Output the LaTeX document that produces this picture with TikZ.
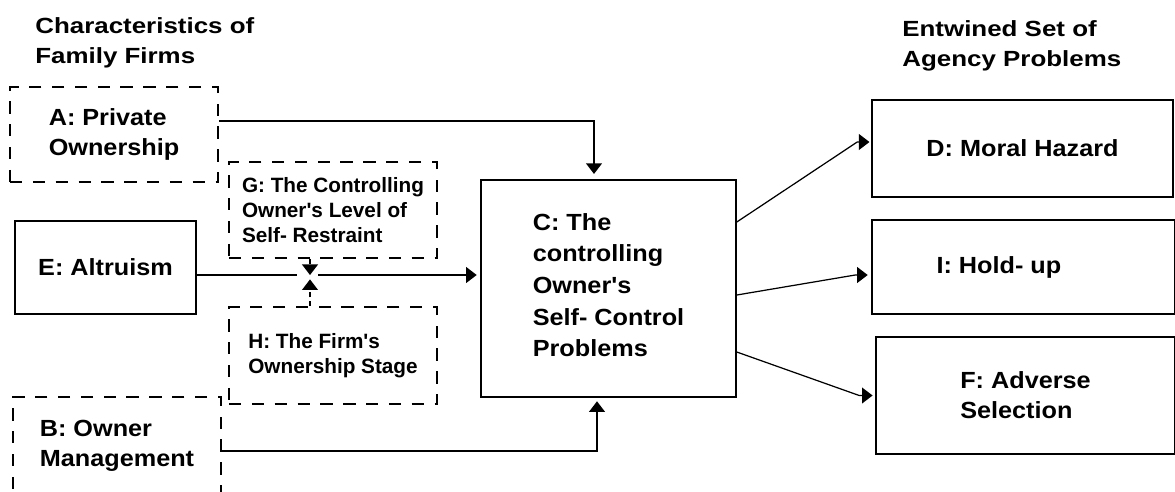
\documentclass[tikz,border=0pt]{standalone}
\usepackage{fontspec}
\setmainfont{Liberation Sans}
\newfontfamily\boxfam{Liberation Sans}[FakeStretch=1.08]
\newfontfamily\headfam{Liberation Sans}[FakeStretch=1.18]
\newfontfamily\smallfam{Liberation Sans}
\usetikzlibrary{arrows.meta,calc}
\newcommand\pxu{0.02cm}
\newcommand\boxfont{\boxfam\fontsize{13.3pt}{17pt}\selectfont\bfseries}
\newcommand\headfont{\headfam\fontsize{12.5pt}{17pt}\selectfont\bfseries}
\newcommand\modfont{\smallfam\fontsize{11.8pt}{14.4pt}\selectfont\bfseries}
\tikzset{
	solidbox/.style={draw,line width=0.9pt,align=left,inner sep=0pt,font=\boxfont},
	dashbox/.style={solidbox,dash pattern=on 7pt off 6pt},
	modbox/.style={dashbox,font=\modfont},
	head/.style={align=left,inner sep=0pt,anchor=north west,font=\headfont},
	arr/.style={-{Triangle[length=6pt,width=9pt]},line width=0.7pt,shorten >=2pt},
	dasharr/.style={arr,dash pattern=on 3pt off 2pt}
}
\begin{document}
\begin{tikzpicture}[x=\pxu,y=-\pxu]
	\useasboundingbox (0,0) rectangle (1175,491);
	% headings
	\node[head](h1)at(35,17){Characteristics of\\Family Firms};
	\node[head](h2)at(902,20){Entwined Set of\\Agency Problems};
	% characteristics
	\node(A)at(114,134.5)[dashbox,minimum width=208*\pxu,minimum height=95*\pxu]{A: Private\\Ownership};
	\node(E)at(105.5,267.5)[solidbox,minimum width=181*\pxu,minimum height=93*\pxu]{E: Altruism};
	\node(B)at(117,446)[dashbox,minimum width=208*\pxu,minimum height=98*\pxu]{B: Owner\\Management};
	% moderators
	\node(G)at(333,210)[modbox,minimum width=208*\pxu,minimum height=96*\pxu]{G: The Controlling\\Owner's Level of\\Self- Restraint};
	\node(H)at(333,355.5)[modbox,minimum width=208*\pxu,minimum height=97*\pxu]{H: The Firm's\\Ownership Stage};
	% centre
	\node(C)at(608.5,288.5)[solidbox,minimum width=255*\pxu,minimum height=217*\pxu,font=\boxfam\fontsize{13.3pt}{18pt}\selectfont\bfseries]{C: The\\controlling\\Owner's\\Self- Control\\Problems\\[-14pt]\mbox{}};
	% agency problems
	\node(D)at(1022.5,148.5)[solidbox,minimum width=301*\pxu,minimum height=97*\pxu]{D: Moral Hazard};
	\node(I)at(1023.5,267)[solidbox,minimum width=303*\pxu,minimum height=94*\pxu]{I: Hold- up\hspace*{28pt}};
	\node(F)at(1025.5,395.5)[solidbox,minimum width=299*\pxu,minimum height=117*\pxu]{F: Adverse\\Selection};
	% moderating point
	\coordinate(m)at(310,275);
	\coordinate(mL)at(297,275);
	\coordinate(mR)at(318,275);
	% connectors
	\draw[line width=0.7pt](E.east|-m)--(mL);
	\draw[arr](mR)--(C.west|-m);
	\draw[dasharr,shorten >=0pt](G.south-|m)--(m);
	\draw[dasharr,shorten >=2.5pt](H.north-|m)--(m);
	\draw[arr,shorten >=3pt]($(A.east)+(0,-13.5)$)-|($(C.north)+(-14.5,0)$);
	\draw[arr]($(B.east)+(0,5)$)-|($(C.south)+(-11.5,0)$);
	\draw[arr,shorten >=1pt]($(C.east)+(0,-66.5)$)--($(D.west)+(-14,-6.5)$)--($(D.west)+(0,-6.5)$);
	\draw[arr,shorten >=2pt]($(C.east)+(0,6.5)$)--($(I.west)+(-16,8)$)--($(I.west)+(0,8)$);
	\draw[arr,shorten >=1.5pt]($(C.east)+(0,63.5)$)--($(F.west)+(-16,0)$)--(F.west);
\end{tikzpicture}
\end{document}
